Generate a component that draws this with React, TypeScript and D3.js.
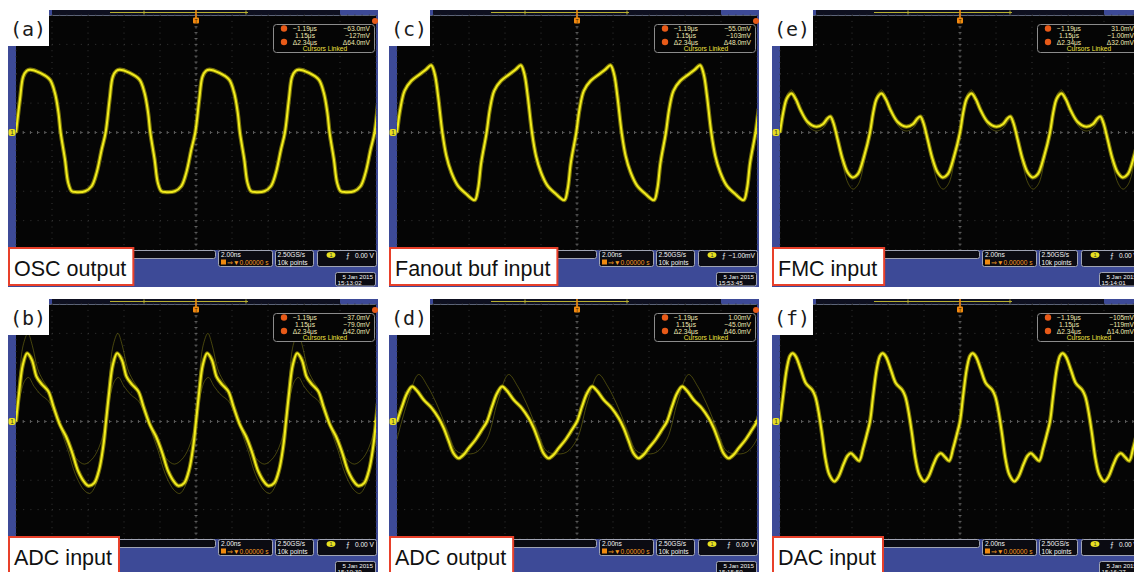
import React, { useMemo } from 'react';
import * as d3 from 'd3';

type Pt = [number, number];

// One period of each trace: [time in divisions from the rising zero crossing, amplitude in divisions]
const oscOutput: Pt[] = [
  [0, 0], [0.11, 1.12], [0.2, 1.9], [0.3, 2.1], [0.39, 2.14], [0.67, 2.03], [0.94, 1.8], [1.08, 1.35],
  [1.18, 0.67], [1.24, 0], [1.36, -0.91], [1.45, -1.71], [1.55, -2.0], [1.69, -2.03], [1.92, -2.0],
  [2.1, -1.83], [2.24, -1.37], [2.38, -0.58], [2.49, 0],
];
const fanoutBufInput: Pt[] = [
  [0, 0], [0.09, 0.79], [0.21, 1.42], [0.4, 1.76], [0.63, 1.98], [0.81, 2.15], [0.95, 2.29], [1.05, 1.98],
  [1.14, 1.25], [1.26, 0], [1.37, -0.79], [1.51, -1.36], [1.69, -1.81], [1.93, -2.1], [2.16, -2.3],
  [2.25, -1.93], [2.34, -1.02], [2.49, 0],
];
const fmcInput: Pt[] = [
  [0, 0], [0.09, 0.68], [0.19, 1.16], [0.32, 1.33], [0.44, 1.13], [0.58, 0.74], [0.77, 0.36], [1.0, 0.2],
  [1.19, 0.28], [1.32, 0.48], [1.4, 0.54], [1.48, 0.34], [1.6, -0.23], [1.74, -0.91], [1.88, -1.36],
  [2.02, -1.53], [2.16, -1.42], [2.34, -0.79], [2.5, 0],
];
const fmcInputGhost: Pt[] = [
  [0, 0], [0.1, 0.8], [0.2, 1.3], [0.32, 1.45], [0.45, 1.2], [0.6, 0.7], [0.8, 0.2], [1.0, 0.05],
  [1.2, 0.15], [1.35, 0.4], [1.42, 0.45], [1.5, 0.2], [1.62, -0.45], [1.76, -1.2], [1.9, -1.75],
  [2.03, -1.93], [2.18, -1.75], [2.35, -0.95], [2.5, 0],
];
const adcInput: Pt[] = [
  [0, 0], [0.09, 1.02], [0.19, 1.93], [0.31, 2.32], [0.44, 2.1], [0.57, 1.53], [0.71, 1.28], [0.9, 1.02],
  [1.04, 0.51], [1.22, -0.11], [1.39, -0.51], [1.55, -1.02], [1.73, -1.7], [1.92, -2.1], [2.01, -2.19],
  [2.17, -2.1], [2.31, -1.64], [2.43, -0.79], [2.5, 0],
];
const adcInputGhostHigh: Pt[] = [
  [0, 0], [0.1, 1.6], [0.2, 2.6], [0.33, 3.0], [0.45, 2.6], [0.6, 1.8], [0.75, 1.4], [0.9, 1.1],
  [1.05, 0.5], [1.25, -0.3], [1.45, -1.0], [1.65, -1.8], [1.9, -2.35], [2.05, -2.45], [2.2, -2.2],
  [2.35, -1.5], [2.5, 0],
];
const adcInputGhostLow: Pt[] = [
  [0, 0], [0.12, 0.9], [0.25, 1.4], [0.35, 1.5], [0.5, 1.2], [0.7, 0.9], [0.9, 0.7], [1.1, 0.2],
  [1.3, -0.4], [1.5, -0.9], [1.7, -1.3], [1.9, -1.45], [2.1, -1.3], [2.3, -0.9], [2.5, 0],
];
const adcOutput: Pt[] = [
  [0, 0], [0.14, 0.51], [0.28, 0.96], [0.42, 1.19], [0.56, 1.04], [0.74, 0.74], [0.97, 0.45], [1.16, 0.11],
  [1.3, -0.23], [1.44, -0.68], [1.57, -1.08], [1.71, -1.25], [1.85, -1.13], [1.99, -0.91], [2.18, -0.62],
  [2.36, -0.28], [2.5, 0],
];
const adcOutputGhost: Pt[] = [
  [0, -0.6], [0.3, 0.7], [0.6, 1.6], [0.85, 1.2], [1.1, 0.6], [1.4, -0.3], [1.65, -1.0], [1.9, -1.1],
  [2.2, -1.05], [2.5, -0.6],
];
const dacInput: Pt[] = [
  [0, 0], [0.09, 0.91], [0.19, 1.81], [0.28, 2.24], [0.35, 2.32], [0.44, 2.21], [0.58, 1.76], [0.72, 1.3],
  [0.89, 1.08], [0.98, 0.85], [1.07, 0.34], [1.17, -0.45], [1.26, -1.25], [1.37, -1.81], [1.51, -2.04],
  [1.63, -1.87], [1.76, -1.47], [1.88, -1.16], [1.97, -1.08], [2.09, -1.22], [2.2, -1.34], [2.31, -0.91],
  [2.41, -0.45], [2.5, 0],
];

// Panels in screen order: top row a, c, e; bottom row b, d, f
const panelLetters = ['(a)', '(c)', '(e)', '(b)', '(d)', '(f)'];
const panelTitles = ['OSC output', 'Fanout buf input', 'FMC input', 'ADC input', 'ADC output', 'DAC input'];
const traces = [oscOutput, fanoutBufInput, fmcInput, adcInput, adcOutput, dacInput];
const ghostTraces: Pt[][][] = [[], [], [fmcInputGhost], [adcInputGhostHigh, adcInputGhostLow], [adcOutputGhost], []];
const periods = [2.49, 2.49, 2.5, 2.5, 2.5, 2.5];
const cursorTimes = ['−1.19μs', '1.15μs', 'Δ2.34μs'];
const cursorA = ['−63.0mV', '−55.0mV', '31.0mV', '−37.0mV', '1.00mV', '−105mV'];
const cursorB = ['−127mV', '−103mV', '−1.00mV', '−79.0mV', '−45.0mV', '−119mV'];
const cursorDelta = ['Δ64.0mV', 'Δ48.0mV', 'Δ32.0mV', 'Δ42.0mV', 'Δ46.0mV', 'Δ14.0mV'];
const triggerLevels = ['0.00 V', '−1.00mV', '0.00 V', '0.00 V', '0.00 V', '0.00 V'];
const clockTimes = ['15:13:02', '15:53:45', '15:14:01', '15:10:39', '15:15:50', '15:16:27'];
const timebaseText = '2.00ns';
const delayText = '▼0.00000 s';
const sampleRateText = '2.50GS/s';
const recordText = '10k points';
const dateText = '5 Jan  2015';

const COLS = [8, 389, 772];
const ROWS = [10, 299];
const BLUE = '#3d4a97';
const TRACE_CORE = '#f2ec1e';
const TRACE_HALO = '#9c9608';
const SCOPE_FONT = '"Liberation Sans", Arial, sans-serif';

function measure(text: string, font: string): number {
  if (typeof document === 'undefined') return text.length * 10;
  const c = document.createElement('canvas');
  const ctx = c.getContext('2d');
  if (!ctx) return text.length * 10;
  ctx.font = font;
  return ctx.measureText(text).width;
}

function expand(cycle: Pt[], period: number, count: number): Pt[] {
  const out: Pt[] = [];
  for (let k = 0; k < count; k++) {
    cycle.forEach((p, i) => {
      if (k > 0 && i === 0) return;
      out.push([p[0] + k * period, p[1]]);
    });
  }
  return out;
}

function Panel({ idx }: { idx: number }) {
  const x0 = COLS[idx % 3];
  const y0 = ROWS[Math.floor(idx / 3)];
  const sx = d3.scaleLinear().domain([0, 10]).range([8, 368]);
  const sy = d3.scaleLinear().domain([-4, 4]).range([240, 5]);
  const line = d3
    .line<Pt>()
    .x((d) => sx(d[0]))
    .y((d) => sy(d[1]))
    .curve(d3.curveCatmullRom.alpha(0.5));
  const main = line(expand(traces[idx], periods[idx], 5)) || '';
  const ghosts = ghostTraces[idx].map((g) => line(expand(g, periods[idx], 5)) || '');
  const clipId = `screen-${idx}`;

  const titleFont = `21.5px "Liberation Sans", Arial, sans-serif`;
  const titleW = measure(panelTitles[idx], titleFont);
  const levelW = measure(triggerLevels[idx], `6.6px ${SCOPE_FONT}`);
  const slopeX = Math.min(338, 366 - levelW - 6);

  const vDivs = d3.range(0, 11);
  const hDivs = d3.range(-4, 5);
  const minorX = d3.range(0, 50.001, 1).map((i) => i / 5);
  const minorY = d3.range(-20, 20.001, 1).map((i) => i / 5);

  return (
    <g transform={`translate(${x0},${y0})`}>
      <defs>
        <clipPath id={clipId}>
          <rect x={8} y={5} width={360} height={235} />
        </clipPath>
      </defs>
      {/* frame */}
      <rect x={0} y={0} width={370} height={277} fill={BLUE} />
      {/* record overview strip */}
      <rect x={44} y={0} width={288} height={5} fill="#0e1020" />
      <line x1={102} x2={240} y1={2.5} y2={2.5} stroke="#b8b030" strokeWidth={1} />
      <line x1={136} x2={136} y1={0.5} y2={4.5} stroke="#b8b030" strokeWidth={1} />
      <line x1={238} x2={238} y1={0.5} y2={4.5} stroke="#b8b030" strokeWidth={1} />
      {/* screen */}
      <rect x={8} y={5} width={360} height={235} fill="#050505" />
      <line x1={8} x2={368} y1={5.5} y2={5.5} stroke="#5c6478" strokeWidth={1} />
      {/* graticule */}
      {vDivs.map((d) => (
        <line key={`v${d}`} x1={sx(d)} x2={sx(d)} y1={5} y2={240} stroke="#363636" strokeWidth={1}
          strokeDasharray="1 4.875" />
      ))}
      {hDivs.map((d) => (
        <line key={`h${d}`} x1={8} x2={368} y1={sy(d)} y2={sy(d)} stroke="#363636" strokeWidth={1}
          strokeDasharray="1 6.2" />
      ))}
      <line x1={8} x2={368} y1={sy(0)} y2={sy(0)} stroke="#505050" strokeWidth={1} strokeDasharray="2 5.2" />
      <line x1={sx(5)} x2={sx(5)} y1={5} y2={240} stroke="#505050" strokeWidth={1} strokeDasharray="2 3.875" />
      {minorX.map((t) => (
        <line key={`mx${t}`} x1={sx(t)} x2={sx(t)} y1={sy(0) - 1.5} y2={sy(0) + 1.5} stroke="#606060" strokeWidth={1} />
      ))}
      {minorY.map((v) => (
        <line key={`my${v}`} x1={sx(5) - 1.5} x2={sx(5) + 1.5} y1={sy(v)} y2={sy(v)} stroke="#606060" strokeWidth={1} />
      ))}
      {/* traces */}
      <g clipPath={`url(#${clipId})`}>
        {ghosts.map((g, i) => (
          <path key={i} d={g} fill="none" stroke="#7c7814" strokeWidth={0.8} strokeOpacity={0.7} />
        ))}
        <path d={main} fill="none" stroke={TRACE_HALO} strokeWidth={4.2} strokeOpacity={0.75} strokeLinejoin="round" />
        <path d={main} fill="none" stroke={TRACE_CORE} strokeWidth={2} strokeLinejoin="round" />
      </g>
      {/* trigger position marker */}
      <line x1={sx(5)} x2={sx(5)} y1={0} y2={8} stroke="#f08a10" strokeWidth={1.6} />
      <rect x={sx(5) - 3} y={7.5} width={6} height={6} rx={1} fill="#f08a10" />
      <text x={sx(5)} y={12.5} fontSize={5} textAnchor="middle" fill="#402000" fontFamily={SCOPE_FONT}>T</text>
      {/* channel ground marker and trigger level marker */}
      <rect x={0.5} y={sy(0) - 3.5} width={7} height={7} rx={2} fill="#e8e020" />
      <text x={4} y={sy(0) + 2.3} fontSize={6.5} textAnchor="middle" fill="#333" fontFamily={SCOPE_FONT}>1</text>
      <path d={`M${sx(10)},${sy(0) - 2} l-3,2 l3,2 z`} fill="#e8e020" />
      {/* cursor readout */}
      <circle cx={367} cy={11} r={3} fill="#e85a18" />
      <rect x={265.5} y={14.5} width={101} height={28} rx={3} fill="#050505" stroke="#8c8c8c" strokeWidth={1} />
      <circle cx={276} cy={18.5} r={3.2} fill="#e85a18" />
      <circle cx={276} cy={32} r={3.2} fill="#e85a18" />
      {cursorTimes.map((t, i) => (
        <text key={`ct${i}`} x={297} y={21 + i * 6.8} fontSize={6.6} textAnchor="middle" fill="#f2eab4"
          fontFamily={SCOPE_FONT}>{t}</text>
      ))}
      {[cursorA[idx], cursorB[idx], cursorDelta[idx]].map((t, i) => (
        <text key={`cv${i}`} x={362} y={21 + i * 6.8} fontSize={6.6} textAnchor="end" fill="#f2eab4"
          fontFamily={SCOPE_FONT}>{t}</text>
      ))}
      <text x={317} y={41} fontSize={6.6} textAnchor="middle" fill="#f0e040" fontFamily={SCOPE_FONT}>Cursors Linked</text>
      {/* status bar */}
      <rect x={2.5} y={240.5} width={205} height={8} rx={2} fill="#0b0b12" stroke="#a0a4b4" strokeWidth={1} />
      <rect x={210.5} y={240.5} width={54} height={16} rx={2} fill="#0b0b12" stroke="#a0a4b4" strokeWidth={1} />
      <text x={213} y={247} fontSize={6.6} fill="#f4f4f4" fontFamily={SCOPE_FONT}>{timebaseText}</text>
      <rect x={213} y={249.5} width={5} height={5} fill="#f08a10" />
      <text x={219} y={254.5} fontSize={6.6} fill="#f59a20" fontFamily={SCOPE_FONT}>{'⇒' + delayText}</text>
      <rect x={267.5} y={240.5} width={38} height={16} rx={2} fill="#0b0b12" stroke="#a0a4b4" strokeWidth={1} />
      <text x={269.5} y={247} fontSize={6.6} fill="#f4f4f4" fontFamily={SCOPE_FONT}>{sampleRateText}</text>
      <text x={269.5} y={254.5} fontSize={6.6} fill="#f4f4f4" fontFamily={SCOPE_FONT}>{recordText}</text>
      <rect x={309.5} y={240.5} width={59} height={16} rx={2} fill="#0b0b12" stroke="#a0a4b4" strokeWidth={1} />
      <ellipse cx={323} cy={245} rx={4.5} ry={3} fill="#e8e020" />
      <text x={323} y={247.2} fontSize={5.5} textAnchor="middle" fill="#333" fontFamily={SCOPE_FONT}>1</text>
      <text x={slopeX} y={247.5} fontSize={7} fill="#f4f4f4" fontFamily={SCOPE_FONT}>⨍</text>
      <text x={366} y={247.5} fontSize={6.6} textAnchor="end" fill="#f4f4f4" fontFamily={SCOPE_FONT}>{triggerLevels[idx]}</text>
      <rect x={327.5} y={262.5} width={40} height={13.5} rx={2} fill="#0b0b12" stroke="#a0a4b4" strokeWidth={1} />
      <text x={365} y={268.5} fontSize={6.2} textAnchor="end" fill="#f4f4f4" fontFamily={SCOPE_FONT}>{dateText}</text>
      <text x={329.5} y={275} fontSize={6.2} fill="#f4f4f4" fontFamily={SCOPE_FONT}>{clockTimes[idx]}</text>
      {/* panel letter */}
      <rect x={0} y={0} width={41} height={36} fill="#ffffff" />
      <text x={2} y={26} fontSize={20} fill="#1a1a1a" fontFamily='"DejaVu Sans Mono", monospace'>{panelLetters[idx]}</text>
      {/* panel title */}
      <rect x={1} y={238} width={titleW + 12} height={37} fill="#ffffff" stroke="#e8402a" strokeWidth={2} />
      <text x={6} y={266} fontSize={21.5} fill="#111" fontFamily='"Liberation Sans", Arial, sans-serif'>{panelTitles[idx]}</text>
    </g>
  );
}

export default function App() {
  const ids = useMemo(() => d3.range(0, 6), []);
  return (
    <div style={{ position: 'absolute', left: 0, top: 0 }}>
      <svg width={1134} height={572} style={{ display: 'block', background: '#ffffff' }}>
        {ids.map((i) => (
          <Panel key={i} idx={i} />
        ))}
      </svg>
    </div>
  );
}
